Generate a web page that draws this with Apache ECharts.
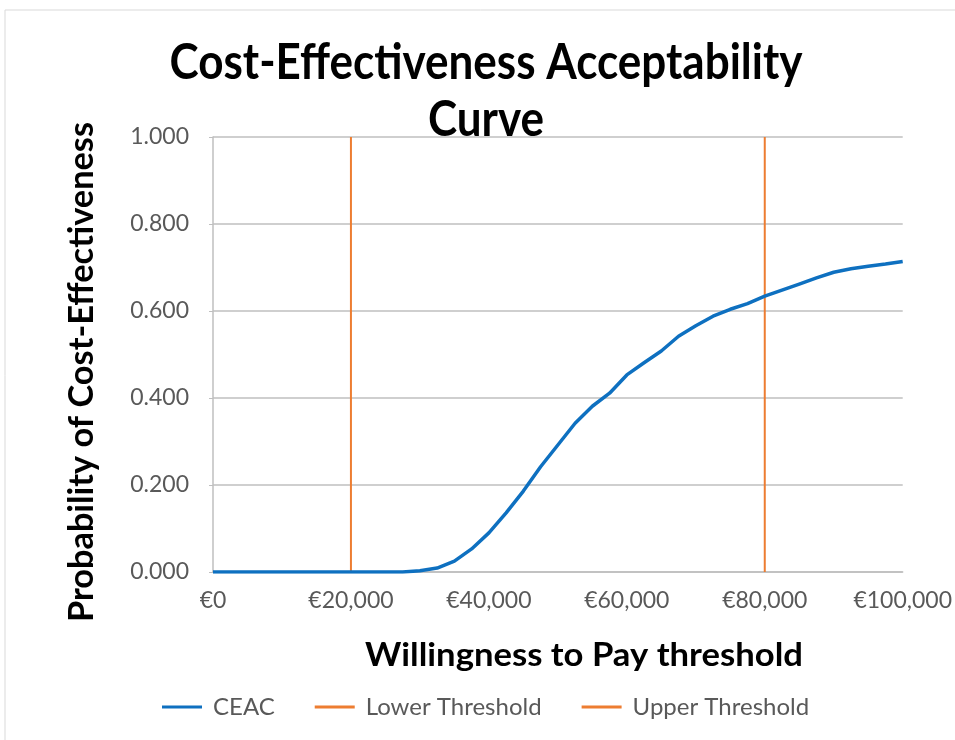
<!DOCTYPE html>
<html>
<head>
<meta charset="utf-8">
<script src="https://cdn.jsdelivr.net/npm/echarts@6/dist/echarts.min.js"></script>
<style>html,body{margin:0;padding:0;background:#fff}#c{width:955px;height:740px}</style>
</head>
<body>
<div id="c"></div>
<script>
// ---- data ----
const wtp = [0,2500,5000,7500,10000,12500,15000,17500,20000,22500,25000,27500,30000,32500,35000,37500,40000,42500,45000,47500,50000,52500,55000,57500,60000,62500,65000,67500,70000,72500,75000,77500,80000,82500,85000,87500,90000,92500,95000,97500,100000];
const ceac = [0,0,0,0,0,0,0,0,0,0,0,0,0.003,0.009,0.025,0.053,0.090,0.136,0.186,0.242,0.292,0.342,0.381,0.411,0.453,0.481,0.508,0.542,0.566,0.588,0.604,0.617,0.634,0.648,0.662,0.676,0.689,0.697,0.703,0.708,0.714];
const lowerThreshold = 20000;
const upperThreshold = 80000;
const xTicks = [0,20000,40000,60000,80000,100000];
const yTicks = [0,0.2,0.4,0.6,0.8,1.0];
const seriesNames = ['CEAC', 'Lower Threshold', 'Upper Threshold'];

const FONT = 'Lato, "Open Sans", sans-serif';
const cvs = document.createElement('canvas').getContext('2d');
function fit(text, size, weight, target){
  cvs.font = weight + ' ' + size + 'px Lato';
  return target / cvs.measureText(text).width;
}
const t1 = 'Cost-Effectiveness Acceptability';
const tScale = fit(t1, 49, 'bold', 633);
const yName = 'Probability of Cost-Effectiveness';
const yScale = fit(yName, 35, 'bold', 500);
const xName = 'Willingness to Pay threshold';
const xScale = fit(xName, 33, 'bold', 438);

const chart = echarts.init(document.getElementById('c'));
chart.setOption({
  animation: false,
  backgroundColor: '#fff',
  grid: {left: 213, right: 52, top: 137, bottom: 168},
  xAxis: {
    type: 'value', min: 0, max: 100000, interval: 20000,
    axisLine: {show: true, lineStyle: {color: '#bfbfbf', width: 1.5}},
    axisTick: {show: false},
    splitLine: {show: false},
    axisLabel: {margin: 17, fontFamily: FONT, fontSize: 23, color: '#595959',
      formatter: v => xTicks.includes(v) ? '€' + v.toLocaleString('en-US') : ''}
  },
  yAxis: {
    type: 'value', min: 0, max: 1, interval: 0.2,
    axisLine: {show: true, lineStyle: {color: '#bfbfbf', width: 1.5}},
    axisTick: {show: true, length: 4, lineStyle: {color: '#bfbfbf'}},
    splitLine: {show: true, lineStyle: {color: '#bfbfbf', width: 1.5}},
    axisLabel: {margin: 24, fontFamily: FONT, fontSize: 23, color: '#595959',
      formatter: v => v.toFixed(3)}
  },
  legend: {
    left: 157, top: 690, itemWidth: 40, itemHeight: 3, itemGap: 40,
    icon: 'rect',
    textStyle: {fontFamily: FONT, fontSize: 24, color: '#595959', padding: [0,0,0,6]},
    data: seriesNames
  },
  series: [
    {name: seriesNames[0], type: 'line', showSymbol: false, symbol: 'none',
     data: wtp.map((w,i) => [w, ceac[i]]),
     lineStyle: {color: '#0E70C0', width: 3.5}, itemStyle: {color: '#0E70C0'}, z: 3},
    {name: seriesNames[1], type: 'line', showSymbol: false, symbol: 'none',
     data: [[lowerThreshold, 0], [lowerThreshold, 1]],
     lineStyle: {color: '#ED7D31', width: 2}, itemStyle: {color: '#ED7D31'}, z: 2},
    {name: seriesNames[2], type: 'line', showSymbol: false, symbol: 'none',
     data: [[upperThreshold, 0], [upperThreshold, 1]],
     lineStyle: {color: '#ED7D31', width: 2}, itemStyle: {color: '#ED7D31'}, z: 2}
  ],
  graphic: [
    {type: 'rect', shape: {x: 5, y: 10, width: 1000, height: 1000}, z: -10,
     style: {fill: '#fff', stroke: '#d9d9d9', lineWidth: 1}},
    {type: 'text', x: 486, y: 63, scaleX: tScale, z: 10,
     style: {text: t1, fontFamily: FONT, fontWeight: 'bold', fontSize: 49, fill: '#000', align: 'center', verticalAlign: 'middle'}},
    {type: 'text', x: 486, y: 120, scaleX: tScale, z: 10,
     style: {text: 'Curve', fontFamily: FONT, fontWeight: 'bold', fontSize: 49, fill: '#000', align: 'center', verticalAlign: 'middle'}},
    {type: 'text', x: 82, y: 372, rotation: Math.PI/2, scaleX: yScale, z: 10,
     style: {text: yName, fontFamily: FONT, fontWeight: 'bold', fontSize: 35, fill: '#000', align: 'center', verticalAlign: 'middle'}},
    {type: 'text', x: 584, y: 655, scaleX: xScale, z: 10,
     style: {text: xName, fontFamily: FONT, fontWeight: 'bold', fontSize: 33, fill: '#000', align: 'center', verticalAlign: 'middle'}}
  ]
});
</script>
</body>
</html>
